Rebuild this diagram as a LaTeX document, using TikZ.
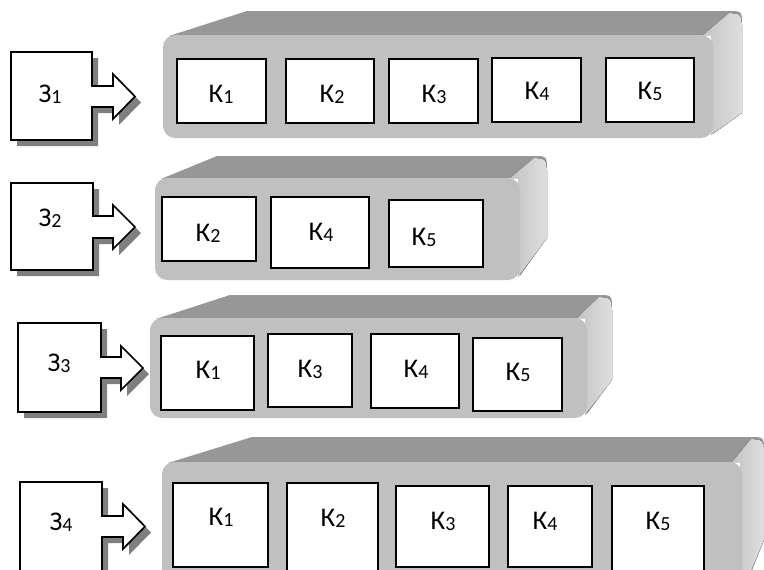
\documentclass[tikz,border=0pt]{standalone}
\usepackage{fontspec}
\setmainfont{Carlito}
\definecolor{topgray}{HTML}{979797}
\definecolor{frontgray}{HTML}{C0C0C0}
\definecolor{sidelight}{HTML}{DEDEDE}
\definecolor{sidedark}{HTML}{C4C4C4}
\definecolor{shadowgray}{HTML}{7F7F7F}
\newcommand{\lowdig}[1]{\raisebox{-1pt}{\fontsize{20}{20}\selectfont #1}}
\tikzset{
  kbox/.style={draw=black, line width=1.7pt, fill=white, inner sep=0pt},
  lbl/.style={anchor=base, inner sep=0pt, font=\fontsize{27}{27}\selectfont},
  zbody/.style={draw=black, fill=white, line width=1.7pt, line join=miter},
  zshadow/.style={fill=shadowgray},
  topface/.style={fill=topgray},
  sideface/.style={left color=sidedark, right color=sidelight},
  frontface/.style={fill=frontgray, rounded corners=12pt},
}
% L T R B stemTop stemBottom headX headTop headBottom
\newcommand{\zsh}[9]{%
  \begin{scope}[shift={(6,6)}]
    \fill[zshadow] (#1,#2) -- (#3,#2) -- (#3,#5) -- (#7,#5) -- (#7,#8) -- ({#7+22},{(#8+#9)/2}) -- (#7,#9) -- (#7,#6) -- (#3,#6) -- (#3,#4) -- (#1,#4) -- cycle;
  \end{scope}
  \draw[zbody] (#1,#2) -- (#3,#2) -- (#3,#5) -- (#7,#5) -- (#7,#8) -- ({#7+22},{(#8+#9)/2}) -- (#7,#9) -- (#7,#6) -- (#3,#6) -- (#3,#4) -- (#1,#4) -- cycle;
}
% L T R B backTop topLeftX backRight diagY
\newcommand{\drawbar}[8]{%
  \fill[topface] ({#1+6},{#2+1}) -- (#6,#5) -- ({#7-14},#5) .. controls (#7,#5) .. (#7,{#5+14}) -- (#7,#8) -- (#3,{#4-4}) -- (#3,#2) -- cycle;
  \fill[sideface] ({#3-10},#2) -- ({#7-13},{#5+2}) .. controls ({#7-1},{#5+3}) .. (#7,{#5+15}) -- (#7,#8) -- ({#3-2},{#4-3}) -- ({#3-2},#2) -- cycle;
  \fill[frontface] (#1,#2) rectangle (#3,#4);
}
% name x1 y1 x2 y2 labelX labelBaseY digit
\newcommand{\kb}[8]{%
  \node[kbox, minimum width={#4-#2}, minimum height={#5-#3}] (#1) at ({(#2+#4)/2},{(#3+#5)/2}) {};
  \node[lbl] (#1t) at (#6,#7) {К\lowdig{#8}};
}
\begin{document}
\begin{tikzpicture}[x=1pt,y=-1pt]
\useasboundingbox (0,0) rectangle (764,570);
\clip (0,0) rectangle (764,570);
% ---------- row 1
\drawbar{163}{35}{713}{138}{11}{247}{742}{113}
\kb{r1k1}{177}{59}{266}{123}{221}{102}{1}
\kb{r1k2}{286}{59}{374}{123}{332}{102}{2}
\kb{r1k3}{389}{59}{478}{123}{434}{102}{3}
\kb{r1k4}{492}{58}{581}{122}{537}{99}{4}
\kb{r1k5}{606}{58}{694}{122}{650}{99}{5}
\zsh{11}{52}{92}{140}{86}{107}{113}{74}{119}
\node[lbl] (z1) at (50,102) {З\lowdig{1}};
% ---------- row 2
\drawbar{155}{178}{520}{280}{156}{217}{547}{238}
\kb{r2k2}{162}{197}{256}{261}{208}{241}{2}
\kb{r2k4}{271}{197}{369}{268}{321}{240}{4}
\kb{r2k5}{389}{200}{483}{267}{424}{245}{5}
\zsh{11}{183}{93}{270}{216}{238}{113}{205}{249}
\node[lbl] (z2) at (50,226) {З\lowdig{2}};
% ---------- row 3
\drawbar{150}{318}{587}{418}{295}{230}{612}{380}
\kb{r3k1}{161}{336}{254}{410}{208}{378}{1}
\kb{r3k3}{268}{334}{352}{407}{310}{377}{3}
\kb{r3k4}{371}{334}{459}{408}{416}{377}{4}
\kb{r3k5}{473}{338}{562}{411}{518}{380}{5}
\zsh{18}{323}{101}{412}{357}{378}{121}{346}{390}
\node[lbl] (z3) at (59,371) {З\lowdig{3}};
% ---------- row 4
\drawbar{162}{462}{742}{600}{437}{252}{764}{540}
\kb{r4k1}{173}{483}{268}{567}{221}{525}{1}
\kb{r4k2}{287}{483}{378}{585}{333}{526}{2}
\kb{r4k3}{396}{486}{489}{567}{443}{529}{3}
\kb{r4k4}{508}{486}{592}{567}{545}{529}{4}
\kb{r4k5}{612}{486}{704}{585}{658}{529}{5}
\zsh{20}{482}{102}{600}{516}{537}{123}{504}{549}
\node[lbl] (z4) at (61,530) {З\lowdig{4}};
\end{tikzpicture}
\end{document}
